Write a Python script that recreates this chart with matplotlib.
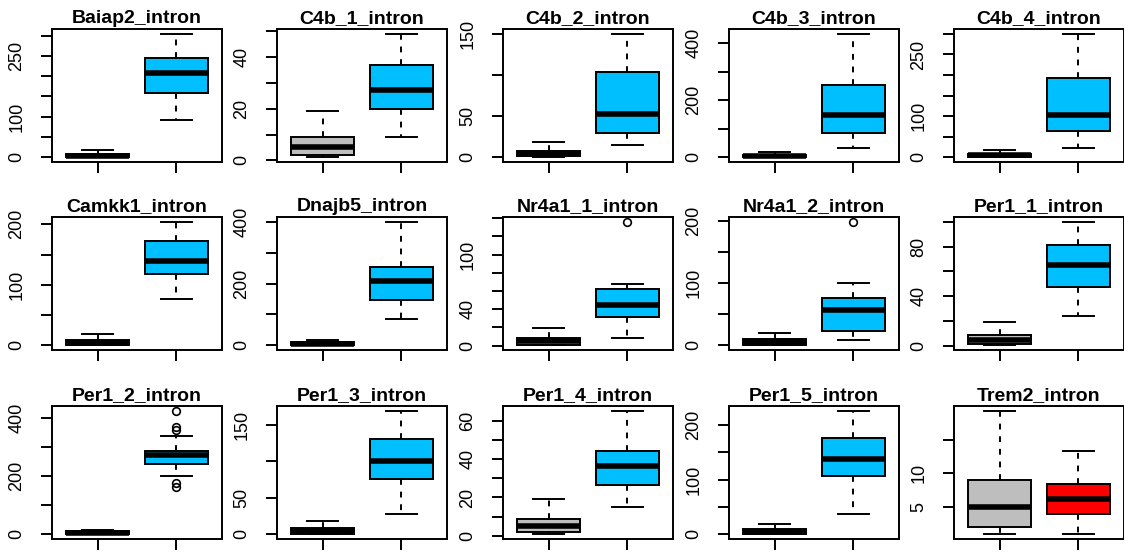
import numpy as np
import matplotlib.pyplot as plt

plt.rcParams['font.family'] = ['Liberation Sans', 'DejaVu Sans']

titles = ['Baiap2_intron', 'C4b_1_intron', 'C4b_2_intron', 'C4b_3_intron', 'C4b_4_intron',
          'Camkk1_intron', 'Dnajb5_intron', 'Nr4a1_1_intron', 'Nr4a1_2_intron', 'Per1_1_intron',
          'Per1_2_intron', 'Per1_3_intron', 'Per1_4_intron', 'Per1_5_intron', 'Trem2_intron']

# five-number summaries: whisker low, Q1, median, Q3, whisker high
ctrl = [[0, 0.5, 3, 8, 18],
        [1.3, 2.2, 5.2, 9.1, 19.2],
        [0, 1, 4, 7.3, 18.4],
        [0, 0.5, 4, 9, 18],
        [0, 0.5, 4, 8, 18],
        [0, 0.5, 4, 9, 19],
        [0, 0.5, 5, 11, 16],
        [0.5, 0.7, 5.5, 8.8, 19],
        [0, 0.5, 5, 9.6, 19],
        [0.5, 1.1, 4.9, 9, 19],
        [0, 0.5, 4, 9, 15],
        [0, 0.5, 4, 8.7, 18],
        [0.9, 1.9, 5, 8.7, 19],
        [0, 0.5, 4, 10, 18],
        [0.9, 2, 5, 9.05, 19.3]]
treat = [[91, 157, 207, 245, 304],
         [9.1, 20.1, 27.3, 36.8, 49],
         [14.3, 29.4, 52, 104, 150],
         [32, 85, 147, 253, 433],
         [22, 63, 102, 192, 300],
         [77, 118, 140, 172, 204],
         [86, 147, 207, 255, 400],
         [8.8, 31.6, 44.5, 62.5, 68],
         [8.6, 23, 56, 75, 100],
         [24.3, 47.8, 65.4, 81, 100],
         [199, 239, 273, 287, 336],
         [27, 75, 100.5, 130, 169],
         [14.9, 26.4, 36.2, 44.2, 65.2],
         [36, 106.4, 137.6, 175.5, 226],
         [0.9, 3.9, 6.15, 8.4, 13.25]]
treat_fliers = [[], [], [], [], [], [], [], [136], [198], [],
                [423, 368, 359, 177, 163], [], [], [], []]
treat_colors = ['#00BFFF'] * 14 + ['#FF0000']

yticks = [[0, 50, 100, 150, 200, 250, 300],
          [0, 10, 20, 30, 40, 50],
          [0, 50, 100, 150],
          [0, 100, 200, 300, 400],
          [0, 50, 100, 150, 200, 250, 300],
          [0, 50, 100, 150, 200],
          [0, 100, 200, 300, 400],
          [0, 20, 40, 60, 80, 100, 120, 140],
          [0, 50, 100, 150, 200],
          [0, 20, 40, 60, 80, 100],
          [0, 100, 200, 300, 400],
          [0, 50, 100, 150],
          [0, 10, 20, 30, 40, 50, 60],
          [0, 50, 100, 150, 200],
          [5, 10, 15]]
ylabeled = [[0, 100, 250], [0, 20, 40], [0, 50, 150], [0, 200, 400], [0, 100, 250],
            [0, 100, 200], [0, 200, 400], [0, 40, 100], [0, 100, 200], [0, 40, 80],
            [0, 200, 400], [0, 50, 150], [0, 20, 40, 60], [0, 100, 200], [5, 10]]

W, H = 1124, 552
fig = plt.figure(figsize=(W / 100, H / 100), dpi=100)

lefts = [52, 277, 503, 729, 954]
tops = [29, 217, 406]
aw, ah = 170, 133

for i, name in enumerate(titles):
    r, c = divmod(i, 5)
    ax = fig.add_axes([lefts[c] / W, 1 - (tops[r] + ah) / H, aw / W, ah / H])
    stats = []
    for s, fl in ((ctrl[i], []), (treat[i], treat_fliers[i])):
        stats.append(dict(whislo=s[0], q1=s[1], med=s[2], q3=s[3], whishi=s[4], fliers=fl))
    bp = ax.bxp(stats, positions=[1, 2], widths=0.8, capwidths=0.4, patch_artist=True,
                boxprops=dict(edgecolor='black', linewidth=1.4),
                whiskerprops=dict(color='black', linewidth=1.4, linestyle=(0, (3, 3.5))),
                capprops=dict(color='black', linewidth=1.4),
                medianprops=dict(color='black', linewidth=4, solid_capstyle='butt'),
                flierprops=dict(marker='o', markerfacecolor='none', markeredgecolor='black',
                                markersize=5.5, markeredgewidth=1.2),
                manage_ticks=False)
    bp['boxes'][0].set_facecolor('#BEBEBE')
    bp['boxes'][1].set_facecolor(treat_colors[i])

    vals = ctrl[i] + treat[i] + treat_fliers[i]
    lo, hi = min(vals), max(vals)
    pad = (hi - lo) * 0.04
    ax.set_ylim(lo - pad, hi + pad)
    ax.set_xlim(0.42, 2.58)
    ax.set_xticks([1, 2])
    ax.set_xticklabels([])
    ax.set_yticks(yticks[i])
    ax.set_yticklabels([str(t) if t in ylabeled[i] else '' for t in yticks[i]],
                       rotation=90, va='center', fontsize=13)
    ax.tick_params(length=8, width=1.4)
    ax.tick_params(axis='y', pad=11)
    for sp in ax.spines.values():
        sp.set_linewidth(1.4)
    ax.set_title(name, fontsize=14, fontweight='bold', pad=4)

fig.savefig('out.png', dpi=100)
